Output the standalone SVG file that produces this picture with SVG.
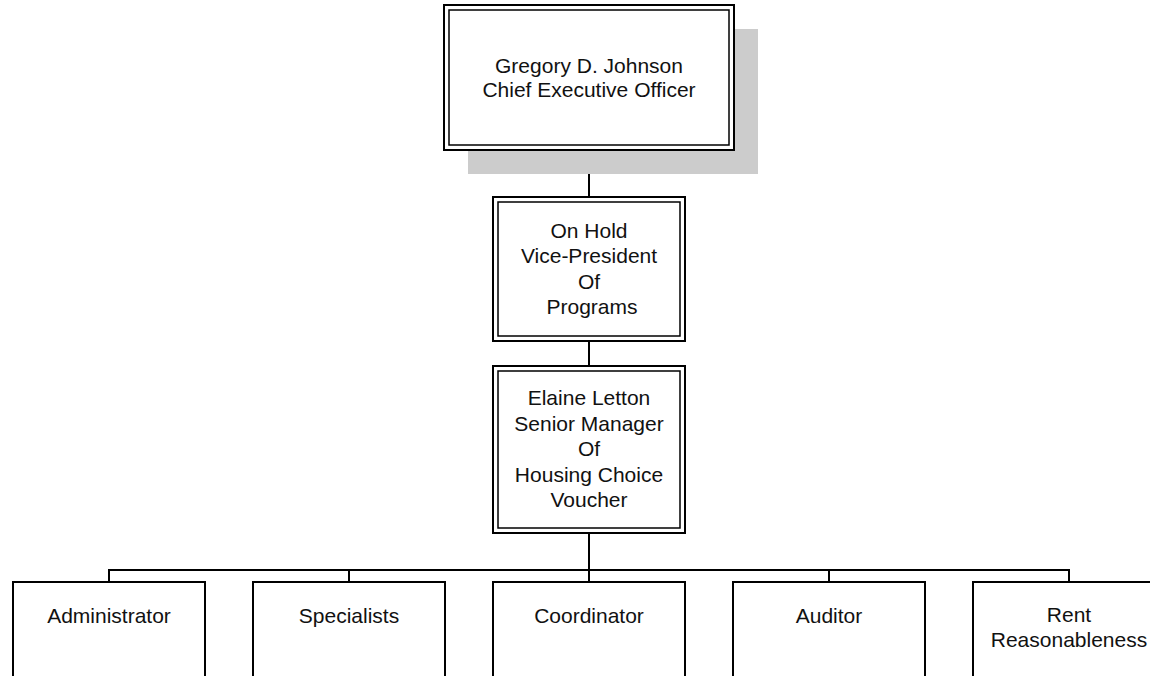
<svg xmlns="http://www.w3.org/2000/svg" width="1150" height="676" viewBox="0 0 1150 676">
<style>
.bg{fill:#ffffff}
.outer{fill:#ffffff;stroke:#000;stroke-width:2}
.inner{fill:none;stroke:#000;stroke-width:1.5}
.box{fill:#ffffff;stroke:#000;stroke-width:2}
.shadow{fill:#cccccc}
.conn{fill:none;stroke:#000;stroke-width:2}
text{font-family:"Liberation Sans",Arial,sans-serif;font-size:21px;fill:#111;text-anchor:middle}
</style>
<rect class="bg" x="0" y="0" width="1150" height="676"/>
<g id="connectors">
<line class="conn" x1="589" y1="150" x2="589" y2="197"/>
<line class="conn" x1="589" y1="341" x2="589" y2="366"/>
<line class="conn" x1="589" y1="533" x2="589" y2="582"/>
<polyline class="conn" points="109,582 109,570 1069,570 1069,582"/>
<line class="conn" x1="349" y1="570" x2="349" y2="582"/>
<line class="conn" x1="829" y1="570" x2="829" y2="582"/>
</g>
<g id="ceo">
<rect class="shadow" x="468" y="29" width="290" height="145"/>
<rect class="outer" x="444" y="5" width="290" height="145"/>
<rect class="inner" x="449" y="10" width="280" height="135"/>
<text x="589" y="73">Gregory D. Johnson</text>
<text x="589" y="97">Chief Executive Officer</text>
</g>
<g id="vp">
<rect class="outer" x="493" y="197" width="192" height="144"/>
<rect class="inner" x="498" y="202" width="182" height="134"/>
<text x="589" y="237.5">On Hold</text>
<text x="589" y="263">Vice-President</text>
<text x="589" y="288.5">Of</text>
<text x="592" y="314">Programs</text>
</g>
<g id="senior-manager">
<rect class="outer" x="493" y="366" width="192" height="167"/>
<rect class="inner" x="498" y="371" width="182" height="157"/>
<text x="589" y="405">Elaine Letton</text>
<text x="589" y="430.5">Senior Manager</text>
<text x="589" y="456">Of</text>
<text x="589" y="481.5">Housing Choice</text>
<text x="589" y="507">Voucher</text>
</g>
<g id="administrator">
<rect class="box" x="13" y="582" width="192" height="120"/>
<text x="109" y="623">Administrator</text>
</g>
<g id="specialists">
<rect class="box" x="253" y="582" width="192" height="120"/>
<text x="349" y="623">Specialists</text>
</g>
<g id="coordinator">
<rect class="box" x="493" y="582" width="192" height="120"/>
<text x="589" y="623">Coordinator</text>
</g>
<g id="auditor">
<rect class="box" x="733" y="582" width="192" height="120"/>
<text x="829" y="623">Auditor</text>
</g>
<g id="rent-reasonableness">
<rect class="box" x="973" y="582" width="192" height="120"/>
<text x="1069" y="622">Rent</text>
<text x="1069" y="647">Reasonableness</text>
</g>
</svg>
